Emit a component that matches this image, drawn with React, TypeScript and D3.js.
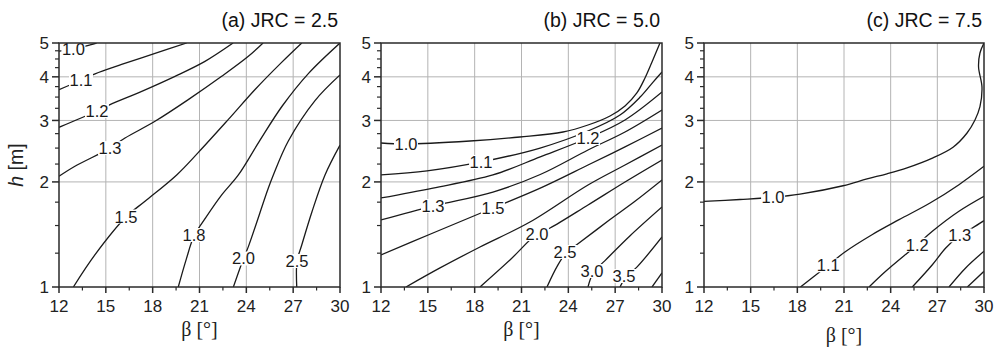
import React from 'react';
import * as d3 from 'd3';

type Pt = [number, number];
type Lbl = [string, number, number];

const BETA_TICKS = [12, 15, 18, 21, 24, 27, 30];
const BETA_MINOR = [13.5, 16.5, 19.5, 22.5, 25.5, 28.5];
const H_TICKS = [1, 2, 3, 4, 5];
const H_MINOR = [1.25, 1.5, 1.75, 2.25, 2.5, 2.75, 3.25, 3.5, 3.75, 4.25, 4.5, 4.75];
const BETA_GRID = [15, 18, 21, 24, 27];
const H_GRID = [2, 3, 4];

// (a) JRC = 2.5 — contour lines as [beta, h]
const a10: Pt[] = [[12, 4.74], [12.92, 4.8], [13.7, 4.9], [14.41, 5.0]];
const a11: Pt[] = [[12, 3.675], [13.41, 3.91], [14.31, 4.08], [16.01, 4.34], [18.15, 4.67], [20.18, 5.0]];
const a12: Pt[] = [[12, 2.867], [14.43, 3.193], [15.27, 3.33], [17.3, 3.635], [19.43, 4.013], [21.35, 4.43], [23.15, 5.0]];
const a13: Pt[] = [[12, 2.075], [13.02, 2.217], [15.27, 2.5], [16.23, 2.672], [18.15, 2.983], [20.28, 3.441], [22.42, 4.013], [24.13, 4.579], [25.07, 5.0]];
const a15: Pt[] = [[12.92, 1.0], [14.31, 1.238], [16.33, 1.594], [17.51, 1.76], [19.54, 2.094], [20.93, 2.43], [22.85, 3.02], [24.56, 3.68], [26.26, 4.4], [27.55, 5.0]];
const a18: Pt[] = [[19.64, 1.0], [20.15, 1.2], [20.65, 1.4], [21.4, 1.58], [22.4, 1.83], [23.49, 2.094], [24.8, 2.6], [26.3, 3.3], [28.0, 4.1], [30, 5.0]];
const a20: Pt[] = [[23.17, 1.0], [23.82, 1.207], [24.13, 1.305], [25.41, 1.921], [25.73, 2.094], [26.69, 2.62], [28.4, 3.42], [30, 4.05]];
const a25: Pt[] = [[27.23, 1.0], [27.25, 1.187], [27.55, 1.319], [28.2, 1.64], [29.04, 2.094], [30, 2.55]];
const aLabels: Lbl[] = [
  ['1.0', 12.92, 4.8], ['1.1', 13.41, 3.91], ['1.2', 14.43, 3.193], ['1.3', 15.27, 2.5],
  ['1.5', 16.29, 1.592], ['1.8', 20.65, 1.409], ['2.0', 23.82, 1.207], ['2.5', 27.25, 1.187],
];

// (b) JRC = 5.0
const b10: Pt[] = [[12, 2.585], [13.6, 2.568], [17.7, 2.62], [20.9, 2.69], [23.66, 2.78], [25.26, 2.911], [26.67, 3.09], [27.63, 3.3], [28.39, 3.596], [28.91, 3.969], [29.36, 4.412], [29.87, 5.0]];
const b11: Pt[] = [[12, 2.094], [14.95, 2.15], [18.41, 2.281], [22.19, 2.501], [25.26, 2.798], [27.31, 3.11], [28.6, 3.5], [29.4, 3.85], [30, 4.13]];
const b12: Pt[] = [[12, 1.799], [15.33, 1.921], [19.17, 2.094], [22.2, 2.36], [25.26, 2.672], [27.63, 3.01], [30, 3.62]];
const b13: Pt[] = [[12, 1.556], [15.33, 1.706], [19.17, 1.871], [22.2, 2.1], [25.26, 2.469], [27.63, 2.78], [30, 3.214]];
const b15: Pt[] = [[12, 1.235], [15.33, 1.428], [19.17, 1.684], [22.2, 1.92], [25.26, 2.236], [27.63, 2.52], [30, 2.854]];
const b18: Pt[] = [[13.6, 1.0], [15.78, 1.134], [18.34, 1.302], [21.54, 1.535], [25.26, 1.96], [27.63, 2.236], [30, 2.552]];
const b20: Pt[] = [[18.34, 1.0], [20.26, 1.195], [21.99, 1.418], [22.83, 1.476], [25.26, 1.718], [27.63, 1.999], [30, 2.311]];
const b25: Pt[] = [[22.63, 1.0], [23.3, 1.15], [23.9, 1.26], [24.62, 1.33], [26.67, 1.56], [28.27, 1.76], [30, 2.026]];
const b30: Pt[] = [[25.26, 1.0], [25.6, 1.1], [26.35, 1.19], [27.94, 1.4], [30, 1.695]];
const b35: Pt[] = [[27.31, 1.0], [27.7, 1.07], [28.39, 1.14], [30, 1.391]];
const b40: Pt[] = [[29.36, 1.0], [30, 1.097]];
const bLabels: Lbl[] = [
  ['1.0', 13.6, 2.568], ['1.1', 18.41, 2.281], ['1.2', 25.26, 2.672], ['1.3', 15.33, 1.706],
  ['1.5', 19.17, 1.684], ['2.0', 21.99, 1.418], ['2.5', 23.79, 1.26], ['3.0', 25.52, 1.111], ['3.5', 27.57, 1.075],
];

// (c) JRC = 7.5
const c10: Pt[] = [[12, 1.758], [14.31, 1.781], [16.44, 1.807], [18.17, 1.845], [20.94, 1.95], [22.48, 2.04], [23.76, 2.11], [25.05, 2.195], [26.72, 2.345], [28.01, 2.515], [28.91, 2.762], [29.42, 3.009], [29.74, 3.285], [29.87, 3.741], [29.65, 4.268], [29.74, 4.681], [30, 5.0]];
const c11: Pt[] = [[18.2, 1.0], [19.99, 1.154], [21.06, 1.26], [22.8, 1.412], [24.54, 1.559], [26.53, 1.74], [28.39, 1.964], [30, 2.217]];
const c12: Pt[] = [[22.61, 1.0], [23.68, 1.109], [25.71, 1.322], [26.68, 1.444], [28.39, 1.648], [30, 1.819]];
const c13: Pt[] = [[25.39, 1.0], [26.68, 1.158], [27.54, 1.293], [28.44, 1.406], [29.25, 1.476], [30, 1.549]];
const c15: Pt[] = [[27.75, 1.0], [28.82, 1.134], [30, 1.266]];
const c18: Pt[] = [[28.93, 1.0], [30, 1.109]];
const cLabels: Lbl[] = [['1.0', 16.44, 1.807], ['1.1', 19.99, 1.154], ['1.2', 25.71, 1.322], ['1.3', 28.44, 1.406]];

const TOP = 43;
const BOTTOM = 287;
const SANS = '"Liberation Sans", Arial, sans-serif';
const SERIF = '"Liberation Serif", "Times New Roman", serif';
const INK = '#1a1a1a';
const AXIS = '#2a2a2a';

interface PanelProps {
  id: string;
  left: number;
  width: number;
  title: string;
  lines: Pt[][];
  labels: Lbl[];
  xTitleY: number;
  yTitle?: boolean;
}

function Panel({ id, left, width, title, lines, labels, xTitleY, yTitle }: PanelProps) {
  const x = d3.scaleLinear().domain([12, 30]).range([left, left + width]);
  const y = d3.scaleLog().domain([1, 5]).range([BOTTOM, TOP]);
  const line = d3.line<Pt>().x(d => x(d[0])).y(d => y(d[1])).curve(d3.curveCatmullRom.alpha(0.5));
  const right = left + width;

  return (
    <g>
      <defs>
        <clipPath id={`clip-${id}`}>
          <rect x={left} y={TOP} width={width} height={BOTTOM - TOP} />
        </clipPath>
      </defs>
      {BETA_GRID.map(b => (
        <line key={`gx${b}`} x1={x(b)} x2={x(b)} y1={TOP} y2={BOTTOM} stroke="#b4b4b4" strokeWidth={1} />
      ))}
      {H_GRID.map(h => (
        <line key={`gy${h}`} x1={left} x2={right} y1={y(h)} y2={y(h)} stroke="#b4b4b4" strokeWidth={1} />
      ))}
      <g clipPath={`url(#clip-${id})`}>
        {lines.map((pts, i) => (
          <path key={i} d={line(pts) || ''} fill="none" stroke={INK} strokeWidth={1.3} />
        ))}
        {labels.map(([t, b, h]) => (
          <g key={t}>
            <rect x={x(b) - 12} y={y(h) - 7} width={24} height={14} fill="#fff" />
            <text x={x(b)} y={y(h) + 6} textAnchor="middle" fontFamily={SANS} fontSize={16.5} fill={INK}>{t}</text>
          </g>
        ))}
      </g>
      <rect x={left} y={TOP} width={width} height={BOTTOM - TOP} fill="none" stroke={AXIS} strokeWidth={1.5} />
      {BETA_TICKS.map(b => (
        <g key={`tx${b}`}>
          <line x1={x(b)} x2={x(b)} y1={BOTTOM} y2={BOTTOM + 6} stroke={AXIS} strokeWidth={1.5} />
          <text x={x(b)} y={BOTTOM + 25} textAnchor="middle" fontFamily={SANS} fontSize={17} fill="#222">{b}</text>
        </g>
      ))}
      {BETA_MINOR.map(b => (
        <line key={`mx${b}`} x1={x(b)} x2={x(b)} y1={BOTTOM} y2={BOTTOM + 3.5} stroke={AXIS} strokeWidth={1.2} />
      ))}
      {H_TICKS.map(h => (
        <g key={`ty${h}`}>
          <line x1={left - 7} x2={left} y1={y(h)} y2={y(h)} stroke={AXIS} strokeWidth={1.5} />
          <text x={left - 10} y={y(h)} dy="0.36em" textAnchor="end" fontFamily={SANS} fontSize={17} fill="#222">{h}</text>
        </g>
      ))}
      {H_MINOR.map(h => (
        <line key={`my${h}`} x1={left - 4} x2={left} y1={y(h)} y2={y(h)} stroke={AXIS} strokeWidth={1.2} />
      ))}
      <text x={right - 2} y={27} textAnchor="end" fontFamily={SANS} fontSize={19.5} fill="#111">{title}</text>
      <text x={(left + right) / 2} y={xTitleY} textAnchor="middle" fontFamily={SERIF} fontSize={20} fill="#222">β [°]</text>
      {yTitle && (
        <text transform={`translate(23,${(TOP + BOTTOM) / 2}) rotate(-90)`} textAnchor="middle" fontFamily={SANS} fontSize={19.5} fill="#222">
          <tspan fontStyle="italic">h</tspan> [m]
        </text>
      )}
    </g>
  );
}

export default function App() {
  return (
    <svg width={998} height={349} style={{ position: 'absolute', left: 0, top: 0, background: '#fff' }}>
      <rect width={998} height={349} fill="#fff" />
      <Panel id="a" left={59} width={281} title="(a) JRC = 2.5" lines={[a10, a11, a12, a13, a15, a18, a20, a25]} labels={aLabels} xTitleY={336} yTitle />
      <Panel id="b" left={381} width={281} title="(b) JRC = 5.0" lines={[b10, b11, b12, b13, b15, b18, b20, b25, b30, b35, b40]} labels={bLabels} xTitleY={336} />
      <Panel id="c" left={704} width={280} title="(c) JRC = 7.5" lines={[c10, c11, c12, c13, c15, c18]} labels={cLabels} xTitleY={342} />
    </svg>
  );
}
